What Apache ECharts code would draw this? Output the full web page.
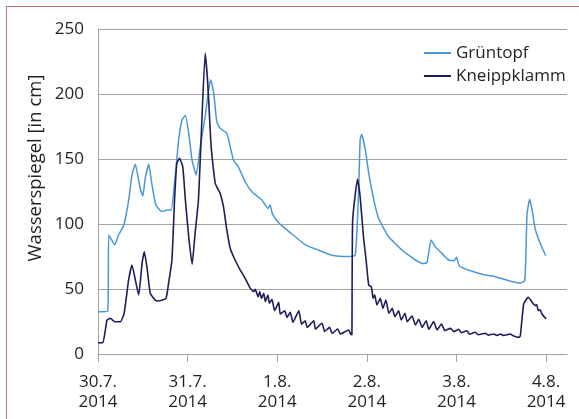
<!DOCTYPE html>
<html>
<head>
<meta charset="utf-8">
<script src="https://cdn.jsdelivr.net/npm/echarts@6/dist/echarts.min.js"></script>
<style>
  html, body { margin: 0; padding: 0; background: #fff; }
  #frame { position: absolute; left: 6px; top: 6px; width: 600px; height: 440px;
           border-top: 1.5px solid #c8707a; border-left: 1.5px solid #c8707a; }
  #chart { position: absolute; left: 0; top: 0; width: 579px; height: 419px; }
</style>
</head>
<body>
<div id="frame"></div>
<div id="chart"></div>
<script>
// x in Stunden ab 30.7.2014 00:00
var dayLabels = ['30.7.\n2014', '31.7.\n2014', '1.8.\n2014', '2.8.\n2014', '3.8.\n2014', '4.8.\n2014'];
var dayTicks = [0, 24, 48, 72, 96, 120];

var gHours = [0, 2.6, 2.9, 4.5, 5.5, 6.9, 8.2, 9.1, 10, 11.2, 12, 12.7, 13.6, 14.4, 15.5, 17.1, 18.5, 19.6,
  20.5, 21.6, 22.5, 23.4, 24.3, 25.2, 26.3, 27.4, 28.7, 29.6, 30.2, 31, 31.8, 32.7, 34.5, 35.4, 36.3,
  37.6, 39.4, 41.2, 43.9, 45.5, 46.1, 46.7, 48.5, 51.4, 55.5, 59, 62.6, 67, 68.9, 69.8, 70.2, 70.6,
  71.6, 72.5, 73.4, 74.3, 75.2, 76.5, 77.9, 79.6, 81.4, 83.2, 85, 86.8, 88.1, 89.2, 90.3, 92.1, 93.9,
  95.3, 96, 96.8, 100.2, 103.7, 106.4, 110, 113.1, 114.3, 114.9, 115.6, 116.3, 117.1, 118.5, 119.9];
var gValues = [32.5, 33, 91.5, 84, 91.5, 99, 118, 137.7, 146, 128.7, 121.5, 136, 146, 131, 114.6, 109.5, 110.8, 110.8,
  131.5, 164.6, 180, 183.5, 169.7, 149, 137.7, 159.5, 182.5, 203, 211, 200.5, 178.7, 173.6, 169.7, 159.5, 149,
  144, 132.5, 124.8, 118.5, 112, 114.6, 108, 100.5, 93.5, 84, 80, 76, 75, 76, 126, 164.6, 169,
  157, 139, 125, 113, 104, 96.7, 90, 85, 80, 76, 72.3, 69.7, 70.3, 87.7, 82.6, 77.4, 72.3,
  71.8, 74.4, 67.5, 63.6, 60.8, 59.5, 56.4, 54.6, 56.4, 107.7, 119, 110, 96, 84.6, 75.6];

var kHours = [0, 1.3, 2.4, 3.3, 4.6, 6, 7, 8.2, 9.1, 10, 10.9, 11.8, 12.4, 13.1, 14, 15.3, 16.2, 18.2, 18.9,
  19.8, 20.5, 21.1, 21.8, 22.7, 23.4, 24.3, 25.2, 26, 26.9, 27.6, 28.7, 29.4, 30.3, 31.4, 32.7, 33.6,
  34.5, 35.4, 36.7, 38.1, 39.4, 40.8, 41.7, 42.1, 42.9, 43.3, 43.8, 44.4, 44.8, 45.5, 45.9, 46.6, 47.3,
  48.4, 48.8, 50, 50.6, 51.5, 52.2, 53.8, 54.5, 55.5, 56, 57.8, 58.2, 60, 60.7, 62, 62.7, 64.2, 64.9,
  67.1, 67.8, 68, 68.2, 69.5, 70.2, 71.1, 71.8, 72.5, 73.2, 73.7, 74.1, 74.7, 75.6, 76.3, 77.1, 77.9,
  78.8, 79.5, 80.5, 81.2, 82.2, 82.8, 84.1, 85, 85.9, 86.8, 87.9, 88.6, 89.9, 90.8, 92, 92.9, 94.4,
  95.3, 96.6, 97.3, 98.8, 99.5, 101, 101.8, 103.7, 104.5, 106, 106.8, 107.8, 108.6, 110.4, 111.2,
  112.7, 113.1, 114, 115.2, 116.3, 117.1, 117.5, 117.9, 118.4, 118.9, 120];
var kValues = [8.7, 8.7, 26, 27.4, 24.8, 24.8, 31.3, 57, 68.5, 57, 45.4, 69.7, 78.7, 67, 46.7, 41.5, 40.8, 42.8, 54.4,
  72.3, 118.5, 146.7, 150.5, 144, 118.5, 90, 69, 92.8, 118.5, 164.6, 231.3, 208, 159.5, 131.3, 123.6, 113.3,
  95.4, 81.3, 72.3, 64.6, 58.2, 50.5, 48, 49.7, 44, 48, 42.8, 46.7, 40.3, 45.4, 39, 42, 33.3,
  39.7, 30.8, 33.3, 28.2, 32, 24.4, 33.3, 23, 25.6, 20.5, 25.6, 19.2, 23.6, 17.4, 20.5, 15.9, 19.2, 15.4,
  18.5, 14.9, 15, 103, 134.4, 121, 90, 72.3, 53, 51.8, 42.8, 45.4, 37.7, 42.8, 35.1, 41.5, 31.3,
  35.1, 28.7, 33.3, 26.2, 31.3, 24.9, 29.2, 22.3, 26.7, 20.5, 25.6, 19, 24.9, 18.5, 23, 18, 19.7,
  17.2, 19, 16.4, 17.9, 15.2, 16.7, 14.8, 16, 14.5, 15.4, 14.3, 15.4, 14.2, 15.4, 14,
  12.8, 14, 38.5, 43.6, 39.7, 37.2, 38, 33.3, 34, 30.8, 27];

function pairs(xs, ys) {
  return xs.map(function (x, i) { return [x, ys[i]]; });
}

var myChart = echarts.init(document.getElementById('chart'));

var textColor = '#231f20';
var gridColor = '#a3a3a3';
var fontFam = '"Open Sans", sans-serif';

var option = {
  animation: false,
  textStyle: { fontFamily: fontFam },
  grid: { left: 98, right: 12, top: 29, bottom: 65 },
  legend: {
    orient: 'vertical',
    left: 419,
    top: 38,
    itemGap: 3,
    itemWidth: 27,
    itemHeight: 2,
    icon: 'rect',
    textStyle: { fontSize: 17, color: textColor, lineHeight: 20, fontFamily: fontFam },
    data: ['Grüntopf', 'Kneippklamm']
  },
  graphic: [{
    type: 'text',
    x: 36,
    y: 168,
    rotation: Math.PI / 2,
    style: {
      text: 'Wasserspiegel [in cm]',
      fontSize: 18.5,
      fontFamily: fontFam,
      fill: textColor,
      textAlign: 'center',
      textVerticalAlign: 'middle'
    }
  }],
  xAxis: {
    type: 'value',
    min: 0,
    max: 125.6,
    axisLine: { lineStyle: { color: gridColor, width: 1 } },
    axisTick: { customValues: dayTicks, length: 8, lineStyle: { color: gridColor } },
    axisLabel: {
      customValues: dayTicks,
      margin: 18,
      fontSize: 17,
      lineHeight: 20,
      color: textColor,
      formatter: function (v) { return dayLabels[Math.round(v / 24)]; }
    },
    splitLine: { show: false }
  },
  yAxis: {
    type: 'value',
    min: 0,
    max: 250,
    interval: 50,
    axisLine: { show: true, lineStyle: { color: gridColor, width: 1 } },
    axisTick: { show: false },
    axisLabel: { margin: 14, fontSize: 17, color: textColor },
    splitLine: { lineStyle: { color: gridColor, width: 1 } }
  },
  series: [{
    name: 'Grüntopf',
    type: 'line',
    symbol: 'none',
    smooth: 0.15,
    lineStyle: { color: '#4a97d6', width: 1.5 },
    itemStyle: { color: '#4a97d6' },
    data: pairs(gHours, gValues)
  }, {
    name: 'Kneippklamm',
    type: 'line',
    symbol: 'none',
    smooth: 0.15,
    lineStyle: { color: '#1e1d5c', width: 1.6 },
    itemStyle: { color: '#1e1d5c' },
    data: pairs(kHours, kValues)
  }]
};

myChart.setOption(option);
</script>
</body>
</html>
